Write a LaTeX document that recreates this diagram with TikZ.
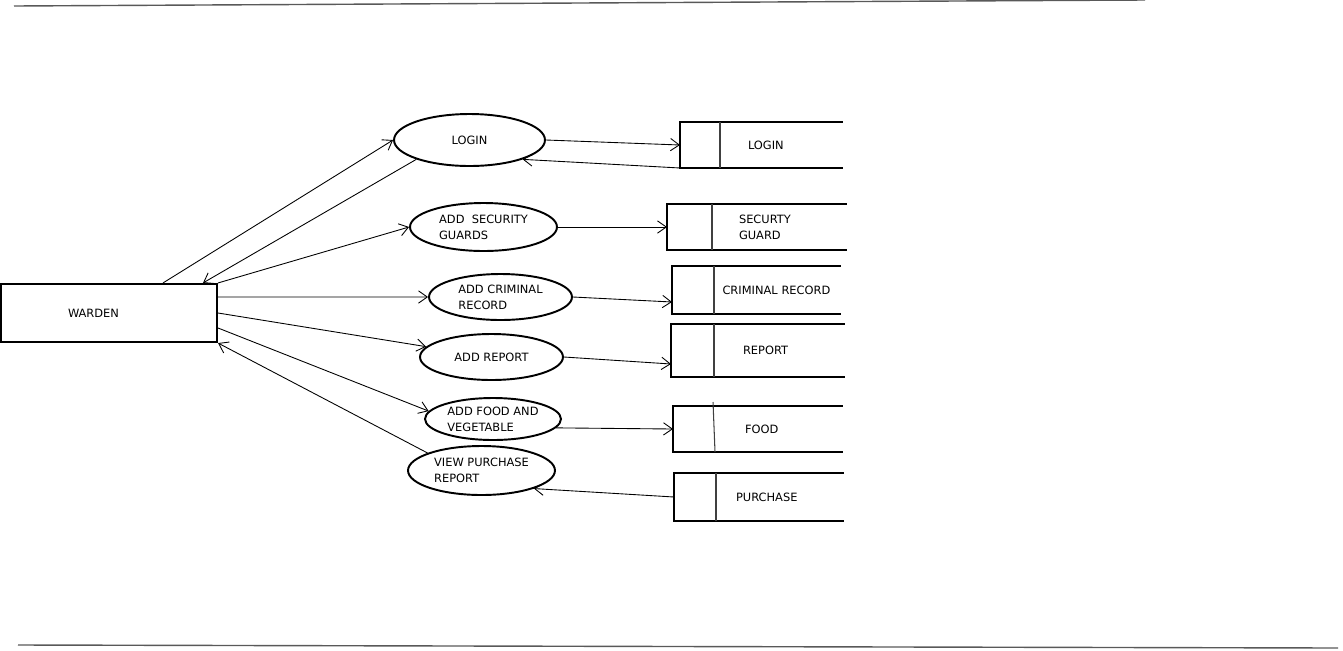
\documentclass[tikz,border=0pt]{standalone}
\usepackage{fontspec}
\setmainfont{DejaVu Sans}
\usetikzlibrary{positioning, shapes.geometric, arrows.meta}

\begin{document}
\begin{tikzpicture}
    [x=0.02cm, y=-0.02cm,
    font=\fontsize{6.5}{9}\selectfont,
    proc/.style = {ellipse, draw, line width=1.1pt, inner sep=0pt, align=left},
    ent/.style = {rectangle, draw, line width=1.2pt, align=left},
    store/.style = {rectangle, draw=none, outer sep=0pt, align=left},
    edge/.style = {line width=1.1pt},
    divider/.style = {line width=0.6pt, black!75},
    flow/.style = {line width=0.5pt, -{Straight Barb[length=5pt, width=7pt]}},
    rule/.style = {line width=0.8pt, black!65},
    ]

    \useasboundingbox (0,0) rectangle (1343,650);

    % page rules
    \coordinate (top-l) at (14,6);
    \coordinate (top-r) at (1145,0);
    \coordinate (bot-l) at (18,645);
    \coordinate (bot-r) at (1338,648);
    \draw[rule] (top-l) -- (top-r);
    \draw[rule] (bot-l) -- (bot-r);

    % external entity
	\node[ent, minimum width=4.32cm, minimum height=1.16cm, text width=1.64cm] (warden) at (109,313) {WARDEN};

    % processes
	\node[proc, minimum width=3.02cm, minimum height=1.04cm] (p-login) at (469.5,140) {LOGIN};
	\node[proc, minimum width=2.94cm, minimum height=0.96cm] (p-guard) at (483.5,227) {ADD\ \ SECURITY\\GUARDS};
	\node[proc, minimum width=2.86cm, minimum height=0.92cm] (p-criminal) at (500.5,297) {ADD CRIMINAL\\RECORD};
	\node[proc, minimum width=2.86cm, minimum height=0.92cm] (p-report) at (491.5,357) {ADD REPORT};
	\node[proc, minimum width=2.72cm, minimum height=0.84cm] (p-food) at (493,419) {ADD FOOD AND\\VEGETABLE};
	\node[proc, minimum width=2.94cm, minimum height=0.98cm] (p-purchase) at (481.5,470.5) {VIEW PURCHASE\\REPORT};

    % data stores
	\node[store, minimum width=2.46cm, minimum height=0.92cm, text width=1.34cm] (db-login) at (781.5,145) {LOGIN};
	\node[store, minimum width=2.70cm, minimum height=0.92cm, text width=1.62cm] (db-guard) at (779.5,227) {SECURTY\\GUARD};
	\node[store, minimum width=2.54cm, minimum height=0.96cm, text width=2.2cm] (db-criminal) at (777.5,290) {CRIMINAL RECORD};
	\node[store, minimum width=2.62cm, minimum height=1.06cm, text width=1.46cm] (db-report) at (779.5,350.5) {REPORT};
	\node[store, minimum width=2.58cm, minimum height=0.92cm, text width=1.34cm] (db-food) at (778.5,429) {FOOD};
	\node[store, minimum width=2.56cm, minimum height=0.96cm, text width=1.76cm] (db-purchase) at (780,497) {PURCHASE};

    \draw[edge] (db-login.north east) -- ([xshift=-0.8cm]db-login.north west) -- ([xshift=-0.8cm]db-login.south west) -- (db-login.south east);
    \draw[divider] (db-login.north west) -- (db-login.south west);
    \draw[edge] (db-guard.north east) -- ([xshift=-0.9cm]db-guard.north west) -- ([xshift=-0.9cm]db-guard.south west) -- (db-guard.south east);
    \draw[divider] (db-guard.north west) -- (db-guard.south west);
    \draw[edge] (db-criminal.north east) -- ([xshift=-0.84cm]db-criminal.north west) -- ([xshift=-0.84cm]db-criminal.south west) -- (db-criminal.south east);
    \draw[divider] (db-criminal.north west) -- (db-criminal.south west);
    \draw[edge] (db-report.north east) -- ([xshift=-0.86cm]db-report.north west) -- ([xshift=-0.86cm]db-report.south west) -- (db-report.south east);
    \draw[divider] (db-report.north west) -- (db-report.south west);
    \draw[edge] (db-food.north east) -- ([xshift=-0.82cm]db-food.north west) -- ([xshift=-0.82cm]db-food.south west) -- (db-food.south east);
    \draw[divider] ([xshift=-0.02cm, yshift=0.08cm]db-food.north west) -- ([xshift=0.02cm]db-food.south west);
    \draw[edge] (db-purchase.north east) -- ([xshift=-0.84cm]db-purchase.north west) -- ([xshift=-0.84cm]db-purchase.south west) -- (db-purchase.south east);
    \draw[divider] (db-purchase.north west) -- (db-purchase.south west);

    % warden <-> processes
    \draw[flow] ([xshift=1.08cm]warden.north) -- (p-login.west);
    \draw[flow] (p-login.200) -- ([xshift=1.88cm]warden.north);
    \draw[flow] (warden.north east) -- (p-guard.west);
    \draw[flow] ([yshift=-0.28cm]warden.north east) -- (p-criminal.west);
    \draw[flow] (warden.east) -- (p-report.171);
    \draw[flow] ([yshift=-0.3cm]warden.east) -- (p-food.173);
    \draw[flow] (p-purchase.162) -- (warden.south east);

    % processes <-> stores
    \draw[flow] (p-login.east) -- ([xshift=-0.8cm]db-login.west);
    \draw[flow] ([xshift=-0.8cm]db-login.south west) -- (p-login.340);
    \draw[flow] (p-guard.east) -- ([xshift=-0.9cm]db-guard.west);
    \draw[flow] (p-criminal.east) -- ([xshift=-0.84cm, yshift=-0.24cm]db-criminal.west);
    \draw[flow] (p-report.east) -- ([xshift=-0.86cm, yshift=-0.27cm]db-report.west);
    \draw[flow] (p-food.352) -- ([xshift=-0.82cm]db-food.west);
    \draw[flow] ([xshift=-0.84cm]db-purchase.west) -- (p-purchase.341);
\end{tikzpicture}
\end{document}
